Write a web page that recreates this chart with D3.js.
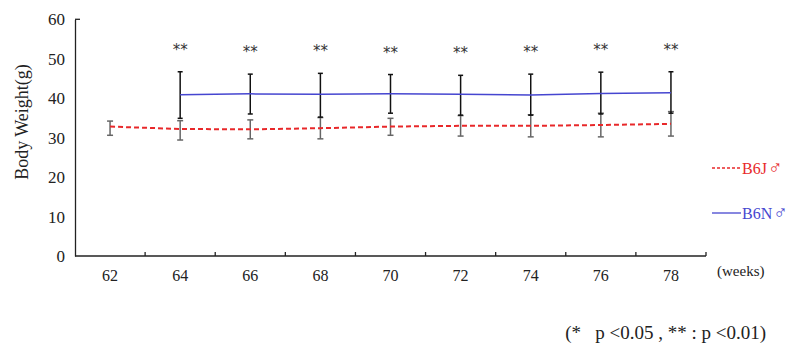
<!DOCTYPE html>
<html>
<head>
<meta charset="utf-8">
<script src="https://cdn.jsdelivr.net/npm/d3@7"></script>
<style>
  html, body { margin: 0; padding: 0; background: #fff; }
  svg { display: block; }
  svg text { font-family: "Liberation Serif", "Times New Roman", "DejaVu Serif", serif !important; }
  svg text.star { font-family: "DejaVu Sans", sans-serif !important; }
</style>
</head>
<body>
<svg id="chart" width="800" height="359"></svg>
<script>
// ---- data ----
const weeks = [62, 64, 66, 68, 70, 72, 74, 76, 78];
const b6jMean  = [32.8, 32.2, 32.1, 32.4, 32.8, 33.0, 33.0, 33.2, 33.5];
const b6jUpper = [34.2, 34.3, 34.5, 35.1, 34.9, 35.6, 35.8, 36.2, 36.6];
const b6jLower = [30.6, 29.4, 29.7, 29.7, 30.6, 30.4, 30.2, 30.2, 30.4];
const b6nWeeks = [64, 66, 68, 70, 72, 74, 76, 78];
const b6nMean  = [40.9, 41.1, 41.0, 41.1, 41.0, 40.8, 41.2, 41.4];
const b6nUpper = [46.7, 46.1, 46.3, 46.0, 45.8, 46.1, 46.6, 46.7];
const b6nLower = [34.9, 36.0, 35.2, 36.2, 35.7, 35.7, 36.0, 36.2];
const sigLabels = ["**", "**", "**", "**", "**", "**", "**", "**"];
const yTicks = [0, 10, 20, 30, 40, 50, 60];
const legendLabels = ["B6J", "B6N"];
const legendSymbol = "\u2642";

// ---- layout ----
const svg = d3.select("#chart");
const x = d3.scaleBand().domain(weeks).range([75, 706]);
const y = d3.scaleLinear().domain([0, 60]).range([256, 19.3]);
const cx = w => x(w) + x.bandwidth() / 2;

// y axis
const yAxis = svg.append("g").attr("transform", "translate(75,0)")
  .call(d3.axisLeft(y).tickValues(yTicks).tickSize(0).tickPadding(10));
yAxis.attr("font-family", null);
yAxis.select(".domain").attr("stroke", "#222").attr("stroke-width", 1.3);
yAxis.selectAll("text").attr("font-size", 17).attr("fill", "#222");
svg.append("line").attr("x1", 75).attr("x2", 80).attr("y1", y(60)).attr("y2", y(60))
  .attr("stroke", "#222").attr("stroke-width", 1.3);

// x axis (ticks between categories, pointing up)
svg.append("line").attr("x1", 75).attr("x2", 706).attr("y1", y(0)).attr("y2", y(0))
  .attr("stroke", "#222").attr("stroke-width", 1.3);
svg.append("g").selectAll("line").data(weeks.slice(1).concat(["end"])).join("line")
  .attr("x1", d => d === "end" ? 706 : x(d)).attr("x2", d => d === "end" ? 706 : x(d))
  .attr("y1", y(0)).attr("y2", y(0) - 4)
  .attr("stroke", "#222").attr("stroke-width", 1.3);
svg.append("g").selectAll("text").data(weeks).join("text")
  .attr("x", d => cx(d)).attr("y", 281).attr("text-anchor", "middle")
  .attr("font-size", 16).attr("fill", "#222").text(d => d);
svg.append("text").attr("x", 717).attr("y", 276).attr("font-size", 15)
  .attr("fill", "#222").text("(weeks)");

// y axis title
svg.append("text").attr("transform", "translate(28,122) rotate(-90)")
  .attr("text-anchor", "middle").attr("font-size", 18).attr("fill", "#222")
  .text("Body Weight(g)");

// error bars helper
function errorBars(ws, up, lo, color, cap) {
  const g = svg.append("g").attr("stroke", color).attr("stroke-width", 1.5);
  ws.forEach((w, i) => {
    const px = cx(w);
    g.append("line").attr("x1", px).attr("x2", px).attr("y1", y(up[i])).attr("y2", y(lo[i]));
    g.append("line").attr("x1", px - cap).attr("x2", px + cap).attr("y1", y(up[i])).attr("y2", y(up[i]));
    g.append("line").attr("x1", px - cap).attr("x2", px + cap).attr("y1", y(lo[i])).attr("y2", y(lo[i]));
  });
}

errorBars(weeks, b6jUpper, b6jLower, "#666", 3);
errorBars(b6nWeeks, b6nUpper, b6nLower, "#111", 2.5);

// lines
const lineJ = d3.line().x((d, i) => cx(weeks[i])).y(d => y(d));
svg.append("path").datum(b6jMean).attr("d", lineJ).attr("fill", "none")
  .attr("stroke", "#e8282a").attr("stroke-width", 2).attr("stroke-dasharray", "5,3");
const lineN = d3.line().x((d, i) => cx(b6nWeeks[i])).y(d => y(d));
svg.append("path").datum(b6nMean).attr("d", lineN).attr("fill", "none")
  .attr("stroke", "#4646d0").attr("stroke-width", 1.5);

// significance markers
svg.append("g").selectAll("text").data(sigLabels).join("text")
  .attr("class", "star")
  .attr("x", (d, i) => cx(b6nWeeks[i])).attr("y", (d, i) => y(b6nUpper[i]) - 17)
  .attr("text-anchor", "middle").attr("font-size", 15)
  .attr("fill", "#333").text(d => d);

// legend
const legColors = ["#e8282a", "#4646d0"];
const legY = [168, 213];
legendLabels.forEach((lab, i) => {
  svg.append("line").attr("x1", 712).attr("x2", 741).attr("y1", legY[i]).attr("y2", legY[i])
    .attr("stroke", legColors[i]).attr("stroke-width", 1.3)
    .attr("stroke-dasharray", i === 0 ? "3,2" : null);
  const t = svg.append("text").attr("x", 742).attr("y", legY[i] + 6).attr("font-size", 16)
    .attr("fill", legColors[i]);
  t.append("tspan").text(lab);
  t.append("tspan").attr("font-size", 19).attr("dx", 1).text(legendSymbol);
});

// footnote
svg.append("text").attr("x", 766).attr("y", 339).attr("text-anchor", "end")
  .attr("font-size", 19).attr("fill", "#222").attr("xml:space", "preserve")
  .text("(*   p <0.05 , ** : p <0.01)");
</script>
</body>
</html>
